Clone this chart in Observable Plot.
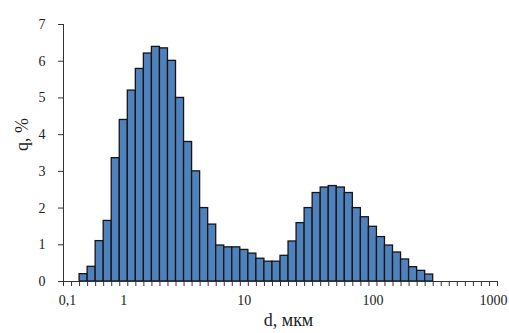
<!DOCTYPE html>
<html><head><meta charset="utf-8">
<script src="https://cdn.jsdelivr.net/npm/d3@7"></script>
<script src="https://cdn.jsdelivr.net/npm/@observablehq/plot@0.6"></script>
<style>body{margin:0;background:#fff}</style>
</head><body><div id="chart"></div>
<script>
// q, % per size class (54 classes on the category axis)
const q = [0,0,0.2,0.4,1.1,1.65,3.36,4.4,5.2,5.79,6.21,6.39,6.35,6.01,5.0,3.8,3.0,2.0,1.55,0.98,0.93,0.93,0.86,0.76,0.62,0.54,0.54,0.70,1.09,1.59,2.0,2.41,2.56,2.6,2.56,2.41,2.0,1.75,1.49,1.21,0.98,0.79,0.6,0.39,0.29,0.19,0,0,0,0,0,0,0,0];
// categories carrying a tick label, and their labels
const labelCategories = [0, 7, 22, 38, 53];
const labelTexts = ["0,1", "1", "10", "100", "1000"];
const yTicks = [0, 1, 2, 3, 4, 5, 6, 7];
const xTitle = "d, мкм";
const yTitle = "q, %";

const bins = q.map((v, i) => ({i, v}));
const axisColor = "#333";

const chart = Plot.plot({
  width: 509, height: 333,
  marginLeft: 63, marginRight: 12, marginTop: 24, marginBottom: 52,
  style: {fontFamily: "'Liberation Serif', 'Times New Roman', serif", fontSize: "14px", color: "#222", background: "#fff"},
  x: {type: "linear", domain: [0, q.length], axis: null},
  y: {domain: [0, 7], axis: null},
  marks: [
    Plot.rectY(bins.filter(d => d.v > 0), {x1: "i", x2: d => d.i + 1, y: "v", fill: "#4F81BD", stroke: "#151515", strokeWidth: 1.3}),
    Plot.ruleX([0], {stroke: axisColor}),
    Plot.ruleY([0], {stroke: axisColor}),
    Plot.axisY({ticks: yTicks, tickSize: 5, tickPadding: 13, stroke: axisColor, fontSize: 14, label: null, tickFormat: d => String(d)}),
    Plot.axisX({ticks: d3.range(q.length + 1), tickSize: 5, stroke: axisColor, tickFormat: () => "", label: null}),
    Plot.axisX({ticks: labelCategories.map(c => c + 0.5), tickSize: 0, tickPadding: 14, fontSize: 14, label: null,
      tickFormat: d => labelTexts[labelCategories.indexOf(d - 0.5)]}),
    Plot.text([xTitle], {frameAnchor: "bottom", dx: 8, dy: 44, fontSize: 18}),
    Plot.text([yTitle], {frameAnchor: "left", rotate: -90, dx: -41, dy: -2, fontSize: 18})
  ]
});
document.getElementById("chart").appendChild(chart);
</script>
</body></html>
